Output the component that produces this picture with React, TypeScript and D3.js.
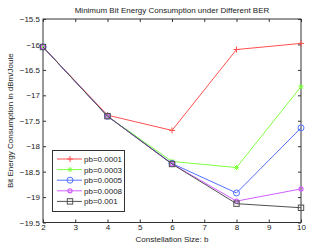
import React, {useRef, useEffect} from 'react';
import * as d3 from 'd3';

const bValues = [2, 4, 6, 8, 10];
const seriesNames = ['pb=0.0001', 'pb=0.0003', 'pb=0.0005', 'pb=0.0008', 'pb=0.001'];
const pb0001 = [-16.05, -17.39, -17.69, -16.1, -15.98];
const pb0003 = [-16.05, -17.41, -18.3, -18.42, -16.83];
const pb0005 = [-16.05, -17.41, -18.34, -18.92, -17.64];
const pb0008 = [-16.05, -17.41, -18.35, -19.08, -18.84];
const pb001 = [-16.05, -17.41, -18.35, -19.13, -19.21];
const seriesColors = ['#ff5050', '#80ff40', '#5070ff', '#d060ff', '#505050'];
const seriesMarkers = ['plus', 'star', 'circle', 'dot', 'square'];
const xTicks = [2, 3, 4, 5, 6, 7, 8, 9, 10];
const yTicks = [-15.5, -16, -16.5, -17, -17.5, -18, -18.5, -19, -19.5];

const App = () => {
    const chart = useRef(null);

    useEffect(() => {
        createChart(chart);
    }, []);

    const createChart = (ref) => {
        const svg = d3.select(ref.current);
        svg.selectAll('*').remove();
        const font = 'Liberation Sans, Arial, sans-serif';
        const fs = 8;
        const left = 43, right = 301, top = 19, bottom = 222.5;

        const x = d3.scaleLinear().domain([2, 10]).range([left, right]);
        const y = d3.scaleLinear().domain([-19.5, -15.5]).range([bottom, top]);
        const fmt = d => String(d).replace('-', '\u2212');

        svg.append('rect').attr('x', left).attr('y', top)
            .attr('width', right - left).attr('height', bottom - top)
            .attr('fill', 'white').attr('stroke', '#333').attr('stroke-width', 1);

        const axes = [
            [d3.axisBottom(x).tickValues(xTicks).tickSize(-3).tickPadding(2).tickFormat(fmt), `translate(0,${bottom})`],
            [d3.axisTop(x).tickValues(xTicks).tickSize(-3).tickFormat(() => ''), `translate(0,${top})`],
            [d3.axisLeft(y).tickValues(yTicks).tickSize(-3).tickPadding(3).tickFormat(fmt), `translate(${left},0)`],
            [d3.axisRight(y).tickValues(yTicks).tickSize(-3).tickFormat(() => ''), `translate(${right},0)`],
        ];
        axes.forEach(([ax, tr]) => {
            const g = svg.append('g').attr('transform', tr).call(ax);
            g.select('.domain').remove();
            g.selectAll('line').attr('stroke', '#333');
            g.selectAll('text').attr('font-family', font).attr('font-size', fs).attr('fill', '#222');
        });

        const data = [pb0001, pb0003, pb0005, pb0008, pb001];
        const line = d3.line().x((d, i) => x(bValues[i])).y(d => y(d));

        const drawMarker = (g, kind, cx, cy, color) => {
            if (kind === 'plus') {
                g.append('path').attr('d', `M${cx - 3},${cy}H${cx + 3}M${cx},${cy - 3}V${cy + 3}`)
                    .attr('stroke', color).attr('stroke-width', 1);
            } else if (kind === 'star') {
                g.append('path').attr('d', `M${cx - 2.5},${cy}H${cx + 2.5}M${cx},${cy - 2.5}V${cy + 2.5}M${cx - 2},${cy - 2}L${cx + 2},${cy + 2}M${cx - 2},${cy + 2}L${cx + 2},${cy - 2}`)
                    .attr('stroke', color).attr('stroke-width', 1);
            } else if (kind === 'circle') {
                g.append('circle').attr('cx', cx).attr('cy', cy).attr('r', 3)
                    .attr('fill', 'none').attr('stroke', color).attr('stroke-width', 1);
            } else if (kind === 'dot') {
                g.append('circle').attr('cx', cx).attr('cy', cy).attr('r', 2)
                    .attr('fill', 'none').attr('stroke', color).attr('stroke-width', 1.2);
            } else {
                g.append('rect').attr('x', cx - 2.7).attr('y', cy - 2.7).attr('width', 5.4).attr('height', 5.4)
                    .attr('fill', 'none').attr('stroke', color).attr('stroke-width', 1);
            }
        };

        data.forEach((vals, s) => {
            const g = svg.append('g');
            g.append('path').datum(vals).attr('d', line)
                .attr('fill', 'none').attr('stroke', seriesColors[s]).attr('stroke-width', 1);
            vals.forEach((v, i) => drawMarker(g, seriesMarkers[s], x(bValues[i]), y(v), seriesColors[s]));
        });

        // legend
        const lg = svg.append('g');
        lg.append('rect').attr('x', 52.5).attr('y', 150.5).attr('width', 72).attr('height', 61)
            .attr('fill', 'white').attr('stroke', '#333').attr('stroke-width', 1);
        seriesNames.forEach((name, s) => {
            const ly = 159 + s * 10.6;
            lg.append('line').attr('x1', 57).attr('x2', 82).attr('y1', ly).attr('y2', ly)
                .attr('stroke', seriesColors[s]).attr('stroke-width', 1);
            drawMarker(lg, seriesMarkers[s], 70, ly, seriesColors[s]);
            lg.append('text').attr('x', 84).attr('y', ly + 3)
                .attr('font-family', font).attr('font-size', fs).attr('fill', '#222').text(name);
        });

        svg.append('text').attr('x', (left + right) / 2).attr('y', 13).attr('text-anchor', 'middle')
            .attr('font-family', font).attr('font-size', fs).attr('fill', '#222')
            .text('Minimum Bit Energy Consumption under Different BER');
        svg.append('text').attr('x', (left + right) / 2).attr('y', 242).attr('text-anchor', 'middle')
            .attr('font-family', font).attr('font-size', fs).attr('fill', '#222')
            .text('Constellation Size: b');
        svg.append('text').attr('transform', `translate(13,${(top + bottom) / 2}) rotate(-90)`)
            .attr('text-anchor', 'middle')
            .attr('font-family', font).attr('font-size', fs).attr('fill', '#222')
            .text('Bit Energy Consumption in dBm/Joule');
    };

    return (
        <svg ref={chart} width={332} height={250}
             style={{position: 'absolute', left: 0, top: 0, background: 'white'}}></svg>
    );
};

export default App;
